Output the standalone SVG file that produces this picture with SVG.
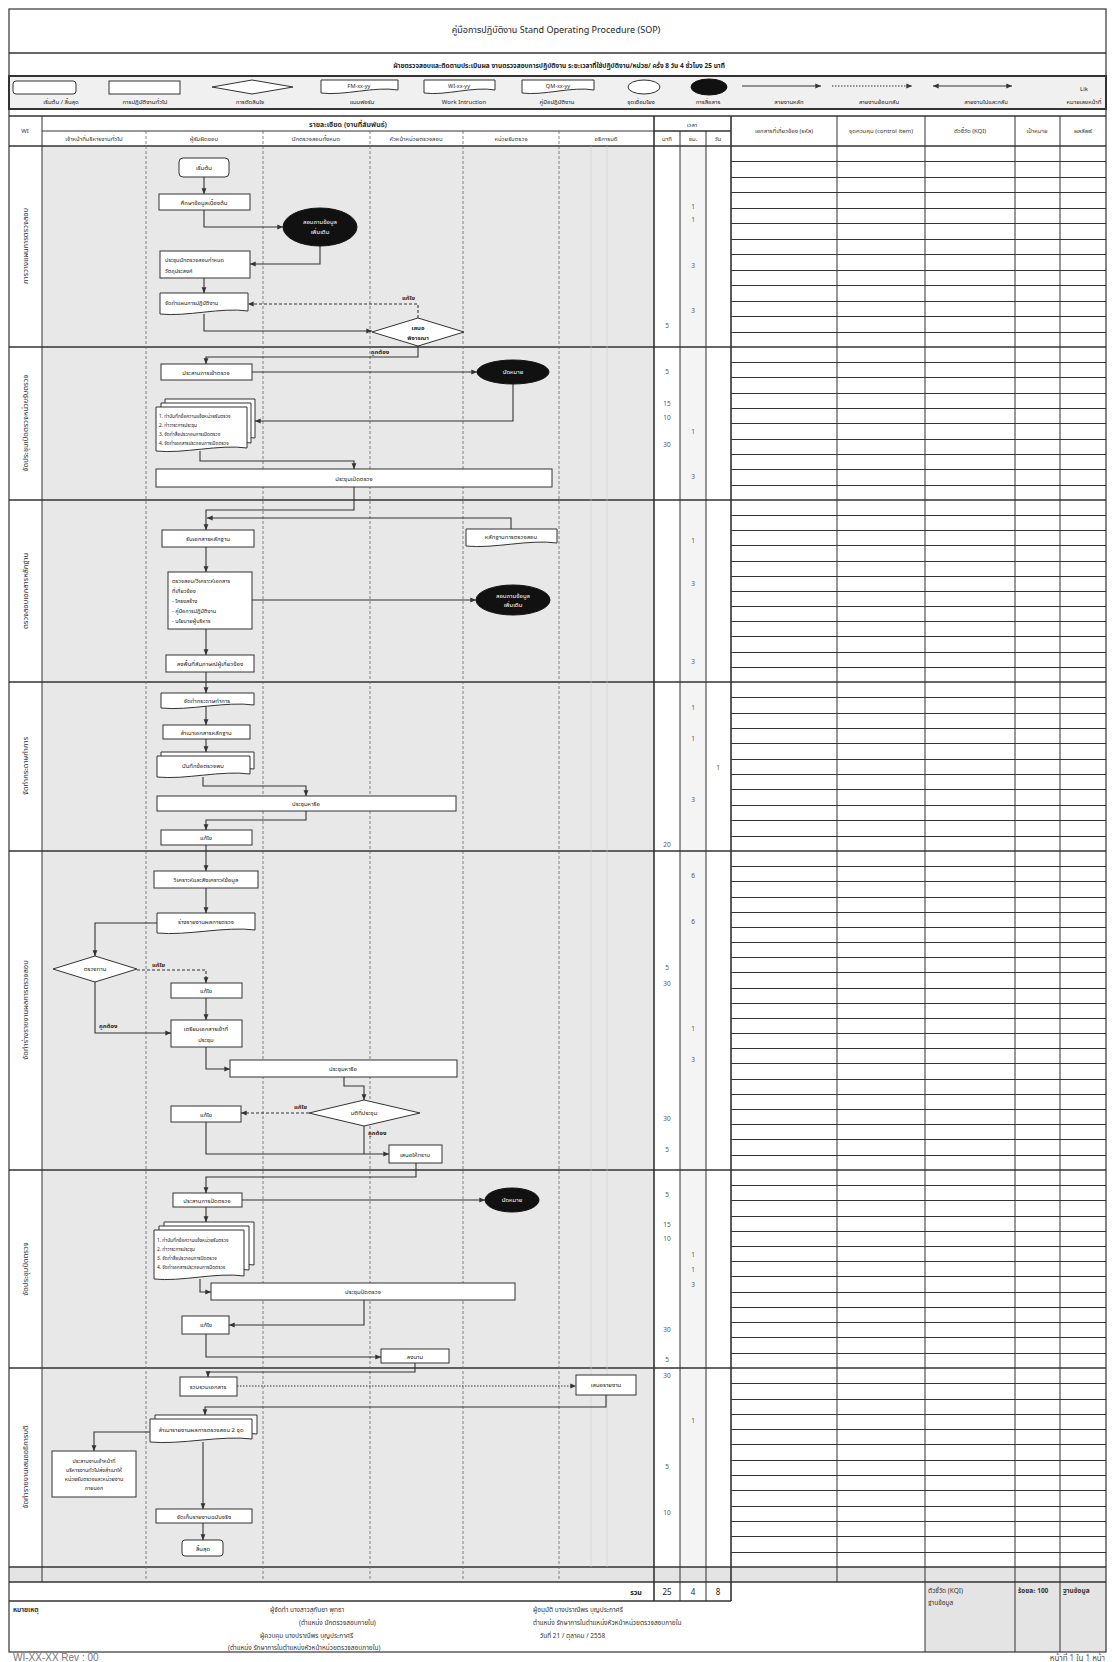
<svg xmlns="http://www.w3.org/2000/svg" width="1112" height="1662" viewBox="0 0 1112 1662">
<style>
text{font-family:"Noto Sans Thai","Noto Sans","DejaVu Sans",sans-serif;fill:#222;}
.t{font-size:6px;text-anchor:middle;}
.tl{font-size:5.6px;text-anchor:start;}
.w{fill:#fff;}
.b{font-weight:bold;}
.h{font-size:6px;text-anchor:middle;fill:#333;}
.sec{font-size:7.5px;text-anchor:middle;fill:#333;}
.num{font-size:6.5px;text-anchor:middle;fill:#555;}
.box{fill:#fff;stroke:#333;stroke-width:1;}
.blk{fill:#111;stroke:#111;}
.lane{stroke:#666;stroke-width:0.8;stroke-dasharray:3 2;}
.sol{stroke:#333;stroke-width:1;fill:none;}
.thk{stroke:#333;stroke-width:1.6;fill:none;}
.c{fill:none;stroke:#333;stroke-width:1.1;marker-end:url(#ah);}
.c0{fill:none;stroke:#333;stroke-width:1.1;}
.d{stroke-dasharray:3 2;}
.dot{stroke-dasharray:1.5 1.5;}
.ft{font-size:6.5px;fill:#333;}
</style>
<defs>
<marker id="ah" viewBox="0 0 10 10" refX="9.5" refY="5" markerWidth="6" markerHeight="6" markerUnits="userSpaceOnUse" orient="auto-start-reverse"><path d="M0,1 L10,5 L0,9 z" fill="#333"/></marker>
</defs>
<rect width="1112" height="1662" fill="#fff"/>
<!-- backgrounds -->
<rect x="42" y="146" width="612" height="1421" fill="#e8e8e8"/>
<rect x="680" y="146" width="26" height="1421" fill="#f4f4f4"/>
<rect x="9" y="1567" width="1097" height="15" fill="#e4e4e4"/>
<rect x="925" y="1582" width="181" height="70" fill="#e4e4e4"/>
<!-- title -->
<g id="title">
<rect x="9" y="9" width="1097" height="1643" fill="none" stroke="#333" stroke-width="1.2"/>
<line x1="9" y1="53" x2="1106" y2="53" class="thk"/>
<text x="556" y="33" style="font-size:9px;text-anchor:middle">คู่มือการปฏิบัติงาน Stand Operating Procedure (SOP)</text>
<text x="559" y="68" class="b" style="font-size:6.5px;text-anchor:middle">ฝ่ายตรวจสอบและติดตามประเมินผล    งานตรวจสอบการปฏิบัติงาน    ระยะเวลาที่ใช้ปฏิบัติงาน/หน่วย/ ครั้ง 8 วัน  4 ชั่วโมง  25 นาที</text>
</g>
<!-- legend -->
<g id="legend">
<rect x="9" y="76" width="1097" height="33" fill="#f0f0f0" stroke="#333" stroke-width="2"/>
<rect x="13" y="81" width="63" height="13" rx="3" class="box"/>
<rect x="109" y="81" width="71" height="13" class="box"/>
<polygon points="212,87 252,80 293,87 252,94" class="box"/>
<path d="M321,80 H398 V90 C374.9,86 344.1,96 321,93 Z" class="box"/>
<text x="359" y="88" class="t" style="font-size:5.5px">FM-xx-yy</text>
<path d="M424,80 H495 V90 C473.7,86 445.3,96 424,93 Z" class="box"/>
<text x="459" y="88" class="t" style="font-size:5.5px">WI-xx-yy</text>
<path d="M522,80 H594 V90 C572.4,86 543.6,96 522,93 Z" class="box"/>
<text x="558" y="88" class="t" style="font-size:5.5px">QM-xx-yy</text>
<ellipse cx="644" cy="87" rx="16" ry="7" class="box"/>
<ellipse cx="709" cy="87" rx="18" ry="8" class="blk"/>
<line x1="742" y1="86" x2="821" y2="86" class="c"/>
<line x1="832" y1="86" x2="912" y2="86" class="c dot"/>
<line x1="933" y1="86" x2="1012" y2="86" class="c" marker-start="url(#ah)"/>
<text x="1084" y="91" class="t">Lik</text>
<text x="61" y="104" class="t">เริ่มต้น / สิ้นสุด</text>
<text x="145" y="104" class="t">การปฏิบัติงานทั่วไป</text>
<text x="250" y="104" class="t">การตัดสินใจ</text>
<text x="362" y="104" class="t">แบบฟอร์ม</text>
<text x="464" y="104" class="t">Work Intruction</text>
<text x="557" y="104" class="t">คู่มือปฏิบัติงาน</text>
<text x="641" y="104" class="t">จุดเชื่อมโยง</text>
<text x="708" y="104" class="t">การสื่อสาร</text>
<text x="789" y="104" class="t">สายงานหลัก</text>
<text x="879" y="104" class="t">สายงานย้อนกลับ</text>
<text x="986" y="104" class="t">สายงานไปและกลับ</text>
<text x="1084" y="104" class="t">หมายเลขหน้าที่</text>
</g>
<!-- table grid -->
<g id="grid">
<line x1="9" y1="116" x2="1106" y2="116" class="thk"/>
<line x1="42" y1="131" x2="731" y2="131" class="sol"/>
<line x1="9" y1="146" x2="1106" y2="146" class="thk"/>
<line x1="9" y1="347" x2="1106" y2="347" class="thk"/>
<line x1="9" y1="500" x2="1106" y2="500" class="thk"/>
<line x1="9" y1="682" x2="1106" y2="682" class="thk"/>
<line x1="9" y1="851" x2="1106" y2="851" class="thk"/>
<line x1="9" y1="1170" x2="1106" y2="1170" class="thk"/>
<line x1="9" y1="1368" x2="1106" y2="1368" class="thk"/>
<line x1="9" y1="1567" x2="1106" y2="1567" class="thk"/>
<line x1="9" y1="1582" x2="1106" y2="1582" class="thk"/>
<line x1="9" y1="1601" x2="731" y2="1601" class="thk"/>
<line x1="42" y1="116" x2="42" y2="1582" class="sol"/>
<line x1="146" y1="131" x2="146" y2="1582" class="lane"/>
<line x1="263" y1="131" x2="263" y2="1582" class="lane"/>
<line x1="370" y1="131" x2="370" y2="1582" class="lane"/>
<line x1="463" y1="131" x2="463" y2="1582" class="lane"/>
<line x1="559" y1="131" x2="559" y2="1582" class="lane"/>
<line x1="591" y1="146" x2="591" y2="1567" stroke="#ccc" stroke-width="0.6"/>
<line x1="607" y1="146" x2="607" y2="1567" stroke="#ccc" stroke-width="0.6"/>
<line x1="654" y1="116" x2="654" y2="1601" class="thk"/>
<line x1="654" y1="131" x2="731" y2="131" class="sol"/>
<line x1="680" y1="131" x2="680" y2="1601" class="sol" stroke-width="0.7"/>
<line x1="706" y1="131" x2="706" y2="1601" class="sol" stroke-width="0.7"/>
<line x1="731" y1="116" x2="731" y2="1601" class="thk"/>
<line x1="837" y1="116" x2="837" y2="1582" class="sol"/>
<line x1="925" y1="116" x2="925" y2="1652" class="sol"/>
<line x1="1015" y1="116" x2="1015" y2="1652" class="sol"/>
<line x1="1060" y1="116" x2="1060" y2="1652" class="sol"/>
<path class="sol" stroke-width="0.9" d="M731 161.5H1106M731 177.5H1106M731 192.5H1106M731 208.5H1106M731 223.5H1106M731 239.5H1106M731 254.5H1106M731 270.5H1106M731 285.5H1106M731 301.5H1106M731 316.5H1106M731 332.5H1106
M731 362.5H1106M731 377.5H1106M731 393.5H1106M731 408.5H1106M731 423.5H1106M731 439.5H1106M731 454.5H1106M731 469.5H1106M731 485.5H1106
M731 515.5H1106M731 530.5H1106M731 545.5H1106M731 561.5H1106M731 576.5H1106M731 591.5H1106M731 606.5H1106M731 621.5H1106M731 636.5H1106M731 652.5H1106M731 667.5H1106
M731 697.5H1106M731 713.5H1106M731 728.5H1106M731 743.5H1106M731 759.5H1106M731 774.5H1106M731 789.5H1106M731 805.5H1106M731 820.5H1106M731 836.5H1106
M731 866.5H1106M731 881.5H1106M731 897.5H1106M731 912.5H1106M731 927.5H1106M731 942.5H1106M731 957.5H1106M731 972.5H1106M731 988.5H1106M731 1003.5H1106M731 1018.5H1106M731 1033.5H1106M731 1048.5H1106M731 1063.5H1106M731 1079.5H1106M731 1094.5H1106M731 1109.5H1106M731 1124.5H1106M731 1139.5H1106M731 1155.5H1106
M731 1185.5H1106M731 1200.5H1106M731 1216.5H1106M731 1231.5H1106M731 1246.5H1106M731 1261.5H1106M731 1276.5H1106M731 1292.5H1106M731 1307.5H1106M731 1322.5H1106M731 1337.5H1106M731 1353.5H1106
M731 1383.5H1106M731 1399.5H1106M731 1414.5H1106M731 1429.5H1106M731 1444.5H1106M731 1460.5H1106M731 1475.5H1106M731 1490.5H1106M731 1506.5H1106M731 1521.5H1106M731 1536.5H1106M731 1552.5H1106"/>
</g>
<!-- headers -->
<g id="headers">
<text x="25" y="133" class="h">WI</text>
<text x="348" y="127" class="h b" style="font-size:7px">รายละเอียด (งานที่สัมพันธ์)</text>
<text x="94" y="141" class="h">เจ้าหน้าที่บริหารงานทั่วไป</text>
<text x="204" y="141" class="h">ผู้รับผิดชอบ</text>
<text x="316" y="141" class="h">นักตรวจสอบทั้งหมด</text>
<text x="416" y="141" class="h">หัวหน้าหน่วยตรวจสอบ</text>
<text x="511" y="141" class="h">หน่วยรับตรวจ</text>
<text x="606" y="141" class="h">อธิการบดี</text>
<text x="692" y="127" class="h">เวลา</text>
<text x="667" y="141" class="h">นาที</text>
<text x="693" y="141" class="h">ชม.</text>
<text x="718" y="141" class="h">วัน</text>
<text x="784" y="133" class="h">เอกสารที่เกี่ยวข้อง (รหัส)</text>
<text x="881" y="133" class="h">จุดควบคุม (control item)</text>
<text x="970" y="133" class="h">ตัวชี้วัด (KQI)</text>
<text x="1037" y="133" class="h">เป้าหมาย</text>
<text x="1083" y="133" class="h">ผลลัพธ์</text>
<text class="sec" transform="translate(28,246) rotate(-90)">การวางแผนการตรวจสอบ</text>
<text class="sec" transform="translate(28,423) rotate(-90)">จัดประชุมเปิดตรวจหน่วยรับตรวจ</text>
<text class="sec" transform="translate(28,591) rotate(-90)">ตรวจสอบเอกสารหลักฐาน</text>
<text class="sec" transform="translate(28,766) rotate(-90)">จัดทำกระดาษทำการ</text>
<text class="sec" transform="translate(28,1010) rotate(-90)">จัดทำร่างรายงานผลการตรวจสอบ</text>
<text class="sec" transform="translate(28,1269) rotate(-90)">จัดประชุมปิดตรวจ</text>
<text class="sec" transform="translate(28,1467) rotate(-90)">จัดทำรายงานเสนออธิการบดี</text>
</g>
<!-- times -->
<g id="times">
<text x="693" y="209" class="num">1</text><text x="693" y="222" class="num">1</text><text x="693" y="268" class="num">3</text><text x="693" y="313" class="num">3</text><text x="667" y="328" class="num">5</text>
<text x="667" y="374" class="num">5</text><text x="667" y="406" class="num">15</text><text x="667" y="420" class="num">10</text><text x="693" y="434" class="num">1</text><text x="667" y="447" class="num">30</text><text x="693" y="479" class="num">3</text>
<text x="693" y="543" class="num">1</text><text x="693" y="586" class="num">3</text><text x="693" y="664" class="num">3</text>
<text x="693" y="710" class="num">1</text><text x="693" y="741" class="num">1</text><text x="718" y="770" class="num">1</text><text x="693" y="802" class="num">3</text><text x="667" y="847" class="num">20</text>
<text x="693" y="878" class="num">6</text><text x="693" y="924" class="num">6</text><text x="667" y="970" class="num">5</text><text x="667" y="986" class="num">30</text><text x="693" y="1031" class="num">1</text><text x="693" y="1062" class="num">3</text><text x="667" y="1121" class="num">30</text><text x="667" y="1152" class="num">5</text>
<text x="667" y="1197" class="num">5</text><text x="667" y="1227" class="num">15</text><text x="667" y="1241" class="num">10</text><text x="693" y="1257" class="num">1</text><text x="693" y="1272" class="num">1</text><text x="693" y="1287" class="num">3</text><text x="667" y="1332" class="num">30</text><text x="667" y="1362" class="num">5</text>
<text x="667" y="1378" class="num">30</text><text x="693" y="1423" class="num">1</text><text x="667" y="1469" class="num">5</text><text x="667" y="1515" class="num">10</text>
</g>
<!-- connectors -->
<g id="connectors">
<path class="c" d="M204,177 V194"/>
<path class="c" d="M204,210 V227 H283"/>
<path class="c" d="M320,246 V264 H250"/>
<path class="c" d="M204,278 V293"/>
<path class="c d" d="M418,318 V304 H248"/>
<path class="c" d="M204,314 V331 H372"/>
<path class="c" d="M418,346 V357 H206 V364"/>
<path class="c" d="M252,372 H477"/>
<path class="c" d="M513,384 V421 H255"/>
<path class="c" d="M200,451 V461 H354 V469"/>
<path class="c" d="M354,487 V510 H206 V530"/>
<path class="c" d="M511,529 V518 H207"/>
<path class="c" d="M206,547 V572"/>
<path class="c" d="M252,600 H476"/>
<path class="c" d="M206,629 V655"/>
<path class="c" d="M206,672 V693"/>
<path class="c" d="M206,706 V725"/>
<path class="c" d="M206,739 V752"/>
<path class="c" d="M203,777 V786 H306 V796"/>
<path class="c" d="M306,811 V820 H206 V830"/>
<path class="c" d="M206,845 V871"/>
<path class="c" d="M206,888 V913"/>
<path class="c" d="M157,923 H95 V956"/>
<path class="c d" d="M137,970 H206 V983"/>
<path class="c" d="M206,998 V1020"/>
<path class="c" d="M95,982 V1033 H171"/>
<path class="c" d="M206,1047 V1069 H230"/>
<path class="c" d="M344,1077 V1086 H364 V1100"/>
<path class="c d" d="M309,1113 H241"/>
<path class="c0" d="M364,1126 V1154"/>
<path class="c" d="M206,1122 V1154 H389"/>
<path class="c" d="M416,1163 V1177 H206 V1193"/>
<path class="c" d="M242,1200 H485"/>
<path class="c" d="M206,1207 V1222"/>
<path class="c" d="M200,1279 V1292 H211"/>
<path class="c" d="M364,1300 V1325 H229"/>
<path class="c" d="M206,1334 V1357 H381"/>
<path class="c" d="M415,1363 V1372 H208 V1377"/>
<path class="c dot" d="M237,1386 H576"/>
<path class="c" d="M606,1395 V1407 H205 V1415"/>
<path class="c" d="M150,1432 H94 V1451"/>
<path class="c" d="M203,1442 V1509"/>
<path class="c" d="M203,1523 V1540"/>
<text x="415" y="300" class="t b" style="text-anchor:end">แก้ไข</text>
<text x="380" y="354" class="t b">ถูกต้อง</text>
<text x="152" y="967" class="tl b" style="font-size:6px">แก้ไข</text>
<text x="99" y="1028" class="tl b" style="font-size:6px">ถูกต้อง</text>
<text x="307" y="1109" class="t b" style="text-anchor:end">แก้ไข</text>
<text x="368" y="1135" class="tl b" style="font-size:6px">ถูกต้อง</text>
</g>
<!-- nodes -->
<g id="n_start"><rect x="179" y="158" width="50" height="19" rx="4" class="box"/><text x="204" y="170" class="t">เริ่มต้น</text></g>
<g id="n_study"><rect x="159" y="194" width="91" height="16" class="box"/><text x="204" y="205" class="t">ศึกษาข้อมูลเบื้องต้น</text></g>
<g id="n_ask1"><ellipse cx="320" cy="227" rx="37" ry="19" class="blk"/><text x="320" y="224" class="t w">สอบถามข้อมูล</text><text x="320" y="234" class="t w">เพิ่มเติม</text></g>
<g id="n_meet"><rect x="160" y="251" width="90" height="27" class="box"/><text x="165" y="262" class="tl">ประชุมนักตรวจสอบกำหนด</text><text x="165" y="273" class="tl">วัตถุประสงค์</text></g>
<g id="n_plan"><path d="M160,293 H248 V311 C221.6,307 186.4,317 160,314 Z" class="box"/><text x="165" y="305" class="tl">จัดทำแผนการปฏิบัติงาน</text></g>
<g id="n_propose"><polygon points="372,332 418,318 464,332 418,346" class="box"/><text x="418" y="330" class="t b">เสนอ</text><text x="418" y="340" class="t b">พิจารณา</text></g>
<g id="n_coord1"><rect x="161" y="364" width="91" height="16" class="box"/><text x="206" y="375" class="t">ประสานการเข้าตรวจ</text></g>
<g id="n_appt1"><ellipse cx="513" cy="372" rx="36" ry="12" class="blk"/><text x="513" y="374" class="t w">นัดหมาย</text></g>
<g id="n_docs1"><path d="M165,399 H255 V438 C228,434 192,444 165,441 Z" class="box"/><path d="M161,403 H251 V443 C224,439 188,449 161,446 Z" class="box"/><path d="M156,407 H247 V448 C219.7,444 183.3,454 156,451 Z" class="box"/>
<text x="159" y="418" class="tl" style="font-size:4.8px">1. ทำบันทึกข้อความแจ้งหน่วยรับตรวจ</text><text x="159" y="427" class="tl" style="font-size:4.8px">2. ทำวาระการประชุม</text><text x="159" y="436" class="tl" style="font-size:4.8px">3. จัดทำสื่อประกอบการเปิดตรวจ</text><text x="159" y="445" class="tl" style="font-size:4.8px">4. จัดทำเอกสารประกอบการเปิดตรวจ</text></g>
<g id="n_openmeet"><rect x="156" y="469" width="396" height="18" class="box"/><text x="354" y="481" class="t">ประชุมเปิดตรวจ</text></g>
<g id="n_receive"><rect x="162" y="530" width="92" height="17" class="box"/><text x="208" y="541" class="t">รับเอกสารหลักฐาน</text></g>
<g id="n_evid"><path d="M466,529 H557 V543 C529.7,539 493.3,549 466,546 Z" class="box"/><text x="511" y="539" class="t">หลักฐานการตรวจสอบ</text></g>
<g id="n_check"><rect x="168" y="572" width="84" height="57" class="box"/><text x="172" y="583" class="tl">ตรวจสอบ/วิเคราะห์เอกสาร</text><text x="172" y="593" class="tl">ที่เกี่ยวข้อง</text><text x="172" y="603" class="tl">- โครงสร้าง</text><text x="172" y="613" class="tl">- คู่มือการปฏิบัติงาน</text><text x="172" y="623" class="tl">- นโยบายผู้บริหาร</text></g>
<g id="n_ask2"><ellipse cx="513" cy="600" rx="37" ry="15" class="blk"/><text x="513" y="598" class="t w">สอบถามข้อมูล</text><text x="513" y="607" class="t w">เพิ่มเติม</text></g>
<g id="n_visit"><rect x="166" y="655" width="88" height="17" class="box"/><text x="210" y="666" class="t">ลงพื้นที่สัมภาษณ์ผู้เกี่ยวข้อง</text></g>
<g id="n_wp"><path d="M161,693 H254 V705 C226.1,701 188.9,711 161,708 Z" class="box"/><text x="207" y="703" class="t">จัดทำกระดาษทำการ</text></g>
<g id="n_copy"><rect x="163" y="725" width="87" height="14" class="box"/><text x="206" y="735" class="t">สำเนาเอกสารหลักฐาน</text></g>
<g id="n_find"><path d="M161,752 H254 V769 C226.1,765 188.9,775 161,772 Z" class="box"/><path d="M157,756 H250 V774 C222.1,770 184.9,780 157,777 Z" class="box"/><text x="203" y="768" class="t">บันทึกข้อตรวจพบ</text></g>
<g id="n_disc1"><rect x="157" y="796" width="299" height="15" class="box"/><text x="306" y="806" class="t">ประชุมหารือ</text></g>
<g id="n_fix1"><rect x="161" y="830" width="91" height="15" class="box"/><text x="206" y="840" class="t">แก้ไข</text></g>
<g id="n_anal"><rect x="154" y="871" width="104" height="17" class="box"/><text x="206" y="882" class="t">วิเคราะห์และสังเคราะห์ข้อมูล</text></g>
<g id="n_draft"><path d="M157,913 H255 V930 C225.6,926 186.4,936 157,933 Z" class="box"/><text x="206" y="924" class="t">ร่างรายงานผลการตรวจ</text></g>
<g id="n_review"><polygon points="53,969 95,956 137,969 95,982" class="box"/><text x="95" y="971" class="t">ตรวจทาน</text></g>
<g id="n_fix2"><rect x="171" y="983" width="71" height="15" class="box"/><text x="206" y="993" class="t">แก้ไข</text></g>
<g id="n_prep"><rect x="171" y="1020" width="71" height="27" class="box"/><text x="206" y="1031" class="t">เตรียมเอกสารเข้าที่</text><text x="206" y="1042" class="t">ประชุม</text></g>
<g id="n_disc2"><rect x="230" y="1060" width="227" height="17" class="box"/><text x="343" y="1071" class="t">ประชุมหารือ</text></g>
<g id="n_res"><polygon points="309,1113 364,1100 420,1113 364,1126" class="box"/><text x="364" y="1115" class="t">มติที่ประชุม</text></g>
<g id="n_fix3"><rect x="171" y="1106" width="70" height="16" class="box"/><text x="206" y="1117" class="t">แก้ไข</text></g>
<g id="n_inform"><rect x="389" y="1145" width="53" height="18" class="box"/><text x="415" y="1157" class="t">เสนอให้ทราบ</text></g>
<g id="n_coord2"><rect x="173" y="1193" width="69" height="14" class="box"/><text x="207" y="1203" class="t">ประสานการปิดตรวจ</text></g>
<g id="n_appt2"><ellipse cx="512" cy="1200" rx="27" ry="12" class="blk"/><text x="512" y="1202" class="t w">นัดหมาย</text></g>
<g id="n_docs2"><path d="M164,1222 H254 V1265 C227,1261 191,1271 164,1268 Z" class="box"/><path d="M159,1226 H249 V1270 C222,1266 186,1276 159,1273 Z" class="box"/><path d="M154,1230 H244 V1276 C217,1272 181,1282 154,1279 Z" class="box"/>
<text x="157" y="1242" class="tl" style="font-size:4.8px">1. ทำบันทึกข้อความแจ้งหน่วยรับตรวจ</text><text x="157" y="1251" class="tl" style="font-size:4.8px">2. ทำวาระการประชุม</text><text x="157" y="1260" class="tl" style="font-size:4.8px">3. จัดทำสื่อประกอบการปิดตรวจ</text><text x="157" y="1269" class="tl" style="font-size:4.8px">4. จัดทำเอกสารประกอบการปิดตรวจ</text></g>
<g id="n_closemeet"><rect x="211" y="1283" width="304" height="17" class="box"/><text x="363" y="1294" class="t">ประชุมปิดตรวจ</text></g>
<g id="n_fix4"><rect x="182" y="1316" width="47" height="18" class="box"/><text x="206" y="1327" class="t">แก้ไข</text></g>
<g id="n_sign"><rect x="381" y="1349" width="68" height="14" class="box"/><text x="415" y="1359" class="t">ลงนาม</text></g>
<g id="n_collect"><rect x="180" y="1377" width="57" height="19" class="box"/><text x="208" y="1389" class="t">รวบรวมเอกสาร</text></g>
<g id="n_present"><rect x="576" y="1375" width="60" height="20" class="box"/><text x="606" y="1387" class="t">เสนอรายงาน</text></g>
<g id="n_copies"><path d="M155,1415 H257 V1434 C226.4,1430 185.6,1440 155,1437 Z" class="box"/><path d="M150,1419 H252 V1439 C221.4,1435 180.6,1445 150,1442 Z" class="box"/><text x="201" y="1432" class="t">สำเนารายงานผลการตรวจสอบ 2 ชุด</text></g>
<g id="n_notify"><rect x="52" y="1451" width="84" height="46" class="box"/><text x="94" y="1463" class="t" style="font-size:5.4px">ประสานงานเจ้าหน้าที่</text><text x="94" y="1472" class="t" style="font-size:5.4px">บริหารงานทั่วไปส่งสำเนาให้</text><text x="94" y="1481" class="t" style="font-size:5.4px">หน่วยรับตรวจและหน่วยงาน</text><text x="94" y="1490" class="t" style="font-size:5.4px">ภายนอก</text></g>
<g id="n_file"><rect x="156" y="1509" width="96" height="14" class="box"/><text x="204" y="1519" class="t">จัดเก็บรายงานฉบับจริง</text></g>
<g id="n_end"><rect x="182" y="1540" width="41" height="16" rx="3" class="box"/><text x="203" y="1551" class="t">สิ้นสุด</text></g>
<!-- footer -->
<g id="footer">
<text x="636" y="1595" class="t b" style="font-size:7px">รวม</text>
<text x="667" y="1595" class="t" style="font-size:8px">25</text>
<text x="693" y="1595" class="t" style="font-size:8px">4</text>
<text x="718" y="1595" class="t" style="font-size:8px">8</text>
<text x="928" y="1593" class="ft">ตัวชี้วัด (KQI)</text>
<text x="928" y="1605" class="ft">ฐานข้อมูล</text>
<text x="1018" y="1593" class="ft b">ร้อยละ 100</text>
<text x="1063" y="1593" class="ft b">ฐานข้อมูล</text>
<text x="13" y="1612" class="ft b">หมายเหตุ</text>
<text x="270" y="1612" class="ft">ผู้จัดทำ  นางสาวสุกันยา  พุทธา</text>
<text x="299" y="1625" class="ft">(ตำแหน่ง  นักตรวจสอบภายใน)</text>
<text x="260" y="1638" class="ft">ผู้ควบคุม  นางปราณีพร   บุญประกาศรี</text>
<text x="228" y="1650" class="ft">(ตำแหน่ง  รักษาการในตำแหน่งหัวหน้าหน่วยตรวจสอบภายใน)</text>
<text x="533" y="1612" class="ft">ผู้อนุมัติ  นางปราณีพร   บุญประกาศรี</text>
<text x="533" y="1625" class="ft">ตำแหน่ง  รักษาการในตำแหน่งหัวหน้าหน่วยตรวจสอบภายใน</text>
<text x="540" y="1638" class="ft">วันที่  21 / ตุลาคม / 2558</text>
<text x="13" y="1661" style="font-family:'Liberation Sans',sans-serif;font-size:10px;fill:#777">WI-XX-XX Rev : 00</text>
<text x="1105" y="1661" style="font-size:8px;text-anchor:end;fill:#555">หน้าที่ 1 ใน 1 หน้า</text>
</g>
</svg>
